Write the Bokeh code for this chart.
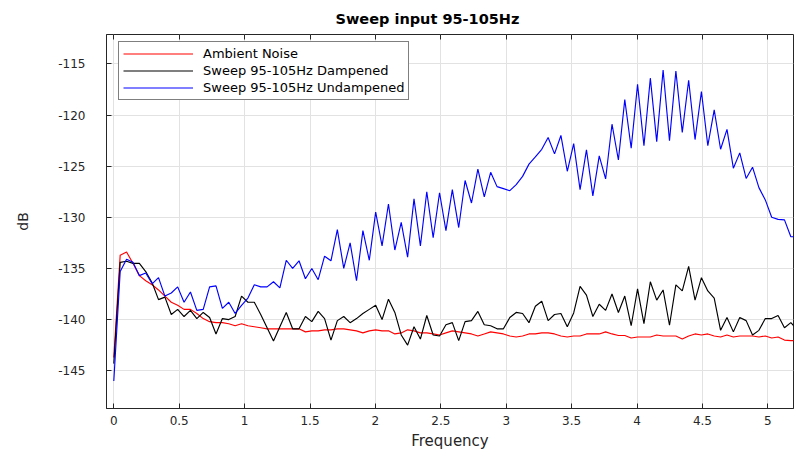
from bokeh.plotting import figure
from bokeh.models import (Range1d, LinearAxis, FixedTicker, Legend, LegendItem,
                          NumeralTickFormatter, ColumnDataSource)
from bokeh.embed import file_html
from bokeh.resources import INLINE

# ---------------- data ----------------
FREQ_STEP = 0.048828125  # frequency resolution of the spectrum

ambient = [
    -143.7, -133.7, -133.4, -134.5, -135.7, -136.2, -136.6, -137.1, -137.7, -138.3,
    -138.6, -139.0, -139.0, -139.4, -139.9, -140.2, -140.3, -140.3, -140.4, -140.6,
    -140.4, -140.6, -140.7, -140.8, -140.9, -140.9, -140.9, -140.9, -140.9, -140.9,
    -141.2, -141.1, -141.1, -141.0, -141.0, -140.9, -140.9, -141.0, -141.1, -141.3,
    -141.1, -141.0, -141.1, -141.1, -141.4, -141.3, -141.0, -141.1, -141.3, -141.3,
    -141.4, -141.5, -141.3, -141.1, -141.2, -141.3, -141.4, -141.6, -141.4, -141.2,
    -141.3, -141.4, -141.6, -141.7, -141.6, -141.4, -141.4, -141.3, -141.3, -141.4,
    -141.6, -141.7, -141.6, -141.6, -141.4, -141.4, -141.4, -141.2, -141.4, -141.55,
    -141.55, -141.8, -141.7, -141.7, -141.7, -141.5, -141.6, -141.6, -141.6, -141.9,
    -141.6, -141.4, -141.5, -141.4, -141.6, -141.7, -141.5, -141.7, -141.6, -141.6,
    -141.6, -141.7, -141.6, -141.8, -141.7, -142.0, -142.05, -142.05,
]

dampened = [
    -144.3, -134.4, -134.3, -134.5, -134.5, -135.3, -136.4, -138.05, -137.8, -139.5,
    -139.0, -139.7, -139.1, -139.9, -139.3, -139.8, -141.4, -139.9, -140.0, -139.7,
    -137.7, -138.3, -138.3, -139.5, -140.8, -142.1, -140.7, -139.3, -140.9, -140.9,
    -139.7, -140.2, -139.2, -139.9, -142.0, -140.1, -139.7, -140.3, -139.9, -139.4,
    -139.0, -138.6, -140.0, -138.0, -139.3, -141.5, -142.5, -140.7, -141.9, -139.6,
    -141.5, -141.6, -140.5, -140.3, -142.05, -140.2, -140.1, -139.2, -140.5, -140.6,
    -140.9, -140.9, -139.8, -139.3, -139.4, -140.3, -138.7, -138.2, -140.1, -139.5,
    -139.4, -140.7, -139.35, -136.75, -137.6, -139.7, -138.5, -139.1, -137.5, -139.3,
    -137.7, -140.6, -137.0, -140.4, -136.3, -138.1, -137.1, -140.55, -136.6, -137.2,
    -134.8, -138.1, -135.9, -137.2, -137.9, -141.05, -139.8, -141.2, -139.8, -140.1,
    -141.5, -141.05, -139.9, -139.9, -139.6, -140.8, -140.3, -141.0,
]

undampened = [
    -146.0, -135.3, -134.1, -134.4, -135.7, -135.45, -136.5, -135.9, -137.7, -137.4,
    -136.8, -138.3, -137.3, -139.1, -139.0, -136.8, -136.7, -138.9, -138.3, -139.4,
    -138.6, -137.9, -136.6, -136.8, -136.8, -136.3, -136.9, -134.2, -135.0, -134.25,
    -136.0, -135.0, -136.1, -133.8, -134.25, -131.2, -135.0, -132.5, -136.2, -131.3,
    -134.2, -129.5, -132.8, -128.7, -133.2, -130.5, -133.9, -128.2, -132.8, -127.5,
    -132.0, -127.6, -131.3, -127.3, -131.0, -126.4, -128.6, -125.3, -128.0, -125.6,
    -127.0, -127.2, -127.4, -126.8, -126.0, -124.8, -124.1, -123.35, -122.2, -123.8,
    -122.0, -125.5, -122.8, -127.3, -123.4, -127.9, -124.0, -126.25, -120.9, -124.4,
    -118.5, -123.25, -117.0, -123.0, -116.4, -122.6, -115.6, -122.5, -115.7, -121.7,
    -116.6, -122.4, -117.7, -123.0, -119.5, -123.35, -121.4, -125.2, -123.7, -126.2,
    -125.1, -127.1, -128.3, -130.0, -130.2, -130.25, -131.9, -131.9,
]

freq = [i * FREQ_STEP for i in range(len(ambient))]

series_labels = ["Ambient Noise", "Sweep 95-105Hz Dampened", "Sweep 95-105Hz Undampened"]
series_colors = ["#ff0000", "#000000", "#0000ff"]

x_ticks = [0, 0.5, 1, 1.5, 2, 2.5, 3, 3.5, 4, 4.5, 5]
y_ticks = [-145, -140, -135, -130, -125, -120, -115]

# ---------------- figure ----------------
FONT = "DejaVu Sans"
AX = "#262626"

p = figure(width=795, height=452, output_backend="svg", toolbar_location=None,
           x_range=Range1d(-0.0558, 5.196), y_range=Range1d(-148.69, -112.13),
           title="Sweep input 95-105Hz",
           min_border_left=106, min_border_right=2, min_border_top=10,
           min_border_bottom=44)
p.background_fill_color = "white"
p.border_fill_color = "white"
p.outline_line_color = AX
p.outline_line_width = 1

p.title.align = "left"
p.title.offset = 229
p.title.text_font = FONT
p.title.text_font_size = "14.5px"
p.title.text_font_style = "bold"
p.title.text_color = "black"
p.title.standoff = 16

xa = p.xaxis[0]
ya = p.yaxis[0]
xa.ticker = FixedTicker(ticks=x_ticks)
ya.ticker = FixedTicker(ticks=y_ticks)
xa.formatter = NumeralTickFormatter(format="0.[0]")
ya.formatter = NumeralTickFormatter(format="0")
xa.axis_label = "Frequency"
ya.axis_label = "dB"
for ax in (xa, ya):
    ax.axis_line_color = AX
    ax.major_tick_line_color = AX
    ax.major_tick_in = 5
    ax.major_tick_out = 0
    ax.minor_tick_line_color = None
    ax.major_label_text_font = FONT
    ax.major_label_text_font_size = "12px"
    ax.major_label_text_color = AX
    ax.axis_label_text_font = FONT
    ax.axis_label_text_font_size = "14px"
    ax.axis_label_text_font_style = "normal"
    ax.axis_label_text_color = AX
xa.axis_label_text_font_size = "15px"
xa.major_label_standoff = 7
xa.axis_label_standoff = 4
ya.major_label_standoff = 21
ya.axis_label_standoff = 24

top_axis = LinearAxis(ticker=FixedTicker(ticks=x_ticks), major_label_text_font_size="0px",
                      major_label_text_alpha=0, major_label_standoff=0,
                      major_tick_in=5, major_tick_out=0, minor_tick_line_color=None,
                      axis_line_color=None, major_tick_line_color=AX)
p.add_layout(top_axis, "above")

p.xgrid.grid_line_color = "#e2e2e2"
p.ygrid.grid_line_color = "#e2e2e2"
p.xgrid.grid_line_width = 1
p.ygrid.grid_line_width = 1

src = ColumnDataSource(dict(freq=freq, ambient=ambient, dampened=dampened,
                            undampened=undampened))
renderers = []
for col, color in zip(["ambient", "dampened", "undampened"], series_colors):
    r = p.line("freq", col, source=src, line_color=color, line_width=1.15)
    renderers.append(r)

legend = Legend(items=[LegendItem(label=lab, renderers=[r])
                       for lab, r in zip(series_labels, renderers)],
                location=(12, 308))
legend.border_line_color = "#000000"
legend.border_line_width = 0.8
legend.background_fill_color = "white"
legend.background_fill_alpha = 1
legend.label_text_font = FONT
legend.label_text_font_size = "13px"
legend.label_text_color = "black"
legend.glyph_width = 70
legend.glyph_height = 15
legend.label_height = 15
legend.spacing = 2
legend.padding = 4
legend.margin = 0
legend.label_standoff = 10
p.add_layout(legend, "center")

open("out.html", "w").write(file_html(p, INLINE))
